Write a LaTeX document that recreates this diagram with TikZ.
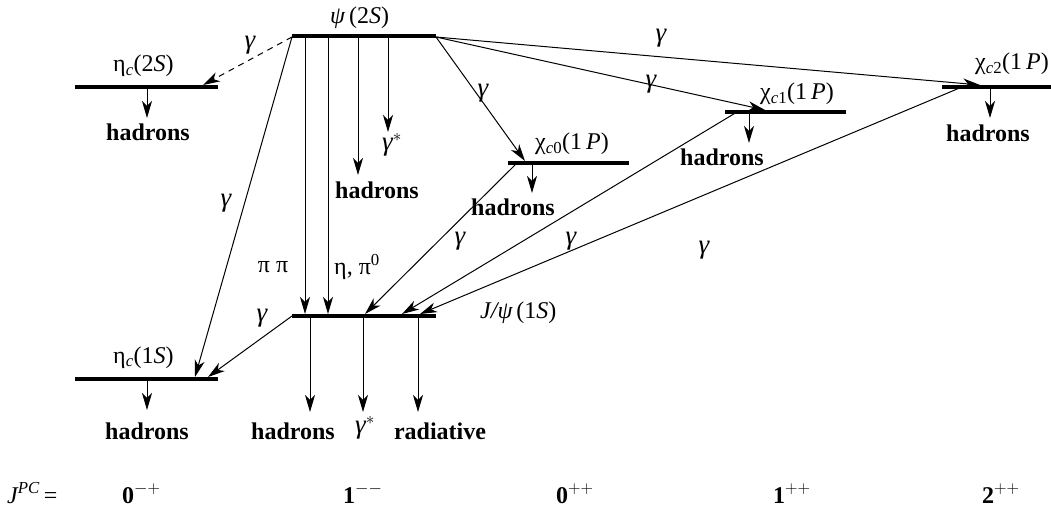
\documentclass[tikz,border=0pt]{standalone}
\usepackage{fontspec}
\setmainfont{Liberation Serif}
\usetikzlibrary{arrows.meta}
\newcommand{\gi}[1]{{\itshape #1}}
\newcommand{\gam}{{\fontsize{27}{30}\selectfont\itshape γ}}
\begin{document}
\begin{tikzpicture}[x=1pt,y=-1pt,
  levelline/.style={line width=3.5pt},
  tr/.style={line width=1pt,-{Stealth[length=17pt,width=10pt,inset=5pt]}},
  dtr/.style={tr,dash pattern=on 6pt off 5pt},
  lab/.style={font=\fontsize{24}{28}\selectfont, inner sep=0pt},
  blab/.style={font=\fontsize{24}{28}\selectfont\bfseries, inner sep=0pt},
  lvlab/.style={lab, anchor=base west},
]
\useasboundingbox (0,0) rectangle (1051,513);

% level end points
\coordinate (psiL) at (292,36);   \coordinate (psiR) at (436,36);
\coordinate (e2L) at (75,87);     \coordinate (e2R) at (218,87);
\coordinate (c0L) at (508,163);   \coordinate (c0R) at (629,163);
\coordinate (c1L) at (725,112);   \coordinate (c1R) at (846,112);
\coordinate (c2L) at (942,87);    \coordinate (c2R) at (1060,87);
\coordinate (jL) at (292,316);    \coordinate (jR) at (436,316);
\coordinate (e1L) at (75,379);    \coordinate (e1R) at (218,379);

\draw[levelline] (psiL) -- (psiR);
\draw[levelline] (e2L) -- (e2R);
\draw[levelline] (c0L) -- (c0R);
\draw[levelline] (c1L) -- (c1R);
\draw[levelline] (c2L) -- (c2R);
\draw[levelline] (jL) -- (jR);
\draw[levelline] (e1L) -- (e1R);

% level labels
\node[lvlab] (lpsi) at (330,24) {\gi{ψ}\,(2\gi{S})};
\node[lvlab] (le2) at (113,72) {η\textsubscript{\gi{c}}(2\gi{S})};
\node[lvlab] (lc0) at (535,150) {χ\textsubscript{\gi{c}0}(1\,\gi{P})};
\node[lvlab] (lc1) at (760,100) {χ\textsubscript{\gi{c}1}(1\,\gi{P})};
\node[lvlab] (lc2) at (975,70) {χ\textsubscript{\gi{c}2}(1\,\gi{P})};
\node[lvlab] (lj) at (480,318) {\gi{J/ψ}\,(1\gi{S})};
\node[lvlab] (le1) at (113,363) {η\textsubscript{\gi{c}}(1\gi{S})};

% transition end points
\coordinate (a1s) at (292,37);  \coordinate (a1e) at (203,85);
\coordinate (a2s) at (292,37);  \coordinate (a2e) at (195,377);
\coordinate (a3s) at (305,37);  \coordinate (a3e) at (305,314);
\coordinate (a4s) at (328,37);  \coordinate (a4e) at (328,314);
\coordinate (a5s) at (358,37);  \coordinate (a5e) at (358,175);
\coordinate (a6s) at (388,37);  \coordinate (a6e) at (388,132);
\coordinate (a7s) at (436,37);  \coordinate (a7e) at (525,161);
\coordinate (a8s) at (436,37);  \coordinate (a8e) at (765,110);
\coordinate (a9s) at (436,37);  \coordinate (a9e) at (980,85);
\coordinate (b1s) at (517,163); \coordinate (b1e) at (365,314);
\coordinate (b2s) at (737,112); \coordinate (b2e) at (402,314);
\coordinate (b3s) at (962,87);  \coordinate (b3e) at (420,314);
\coordinate (b4s) at (292,316); \coordinate (b4e) at (208,377);
\coordinate (d1s) at (310,316); \coordinate (d1e) at (310,412);
\coordinate (d2s) at (363,316); \coordinate (d2e) at (363,412);
\coordinate (d3s) at (418,316); \coordinate (d3e) at (418,412);
\coordinate (h1s) at (147,87);  \coordinate (h1e) at (147,118);
\coordinate (h2s) at (147,379); \coordinate (h2e) at (147,410);
\coordinate (h3s) at (532,163); \coordinate (h3e) at (532,193);
\coordinate (h4s) at (749,112); \coordinate (h4e) at (749,143);
\coordinate (h5s) at (990,87);  \coordinate (h5e) at (990,118);

\draw[dtr] (a1s) -- (a1e);
\draw[tr] (a2s) -- (a2e);
\draw[tr] (a3s) -- (a3e);
\draw[tr] (a4s) -- (a4e);
\draw[tr] (a5s) -- (a5e);
\draw[tr] (a6s) -- (a6e);
\draw[tr] (a7s) -- (a7e);
\draw[tr] (a8s) -- (a8e);
\draw[tr] (a9s) -- (a9e);
\draw[tr] (b1s) -- (b1e);
\draw[tr] (b2s) -- (b2e);
\draw[tr] (b3s) -- (b3e);
\draw[tr] (b4s) -- (b4e);
\draw[tr] (d1s) -- (d1e);
\draw[tr] (d2s) -- (d2e);
\draw[tr] (d3s) -- (d3e);
\draw[tr] (h1s) -- (h1e);
\draw[tr] (h2s) -- (h2e);
\draw[tr] (h3s) -- (h3e);
\draw[tr] (h4s) -- (h4e);
\draw[tr] (h5s) -- (h5e);

% gamma labels
\node[lab] (g1) at (250,45) {\gam};
\node[lab] (g2) at (226,203) {\gam};
\node[lab] (g7) at (483,93) {\gam};
\node[lab] (g8) at (651,84) {\gam};
\node[lab] (g9) at (661,38) {\gam};
\node[lab] (gb1) at (460,241) {\gam};
\node[lab] (gb2) at (571,241) {\gam};
\node[lab] (gb3) at (704,250) {\gam};
\node[lab] (gb4) at (262,318) {\gam};
\node[lab] (pp) at (273,267) {π π};
\node[lab] (ep) at (357,267) {η, π\textsuperscript{0}};
\node[lab] (gs1) at (392,145) {\gam\textsuperscript{$*$}};
\node[lab] (gs2) at (365,428) {\gam\textsuperscript{$*$}};

% decay products
\node[blab] (hp) at (377,190) {hadrons};
\node[blab] (he2) at (148,132) {hadrons};
\node[blab] (he1) at (147,431) {hadrons};
\node[blab] (hc0) at (513,207) {hadrons};
\node[blab] (hc1) at (722,157) {hadrons};
\node[blab] (hc2) at (988,133) {hadrons};
\node[blab] (hj) at (293,431) {hadrons};
\node[blab] (rj) at (440,431) {radiative};

% J^PC row
\node[lab, anchor=base west] (jpc) at (7,503) {\gi{J}\textsuperscript{\gi{PC}}\,=};
\node[blab, anchor=base west] (q1) at (122,503) {0$^{-+}$};
\node[blab, anchor=base west] (q2) at (343,503) {1$^{--}$};
\node[blab, anchor=base west] (q3) at (556,503) {0$^{++}$};
\node[blab, anchor=base west] (q4) at (773,503) {1$^{++}$};
\node[blab, anchor=base west] (q5) at (982,503) {2$^{++}$};
\end{tikzpicture}
\end{document}
